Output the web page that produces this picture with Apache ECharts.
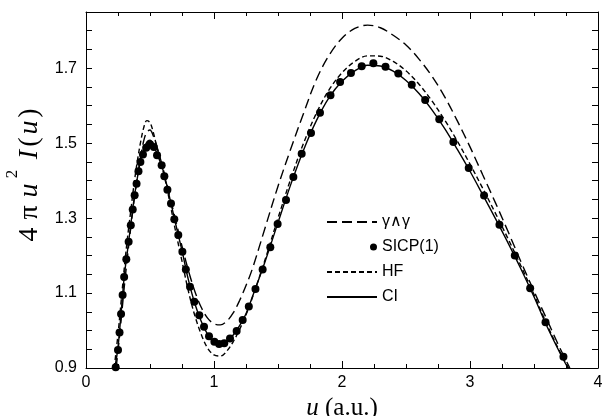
<!DOCTYPE html>
<html>
<head>
<meta charset="utf-8">
<script src="https://cdn.jsdelivr.net/npm/echarts@6/dist/echarts.min.js"></script>
<style>
  html, body { margin: 0; padding: 0; background: #fff; }
  #chart { width: 613px; height: 416px; }
</style>
</head>
<body>
<div id="chart"></div>
<script>
// series names as in the legend
const seriesNames = ['γ∧γ', 'SICP(1)', 'HF', 'CI'];

// y tick labels (others are minor ticks only)
const yLabelValues = [0.9, 1.1, 1.3, 1.5, 1.7];

// SICP(1) points [u, 4πu²I(u)]
const sicpData = [
  [0.232, 0.902], [0.25, 0.948], [0.262, 0.995], [0.274, 1.044], [0.286, 1.095],
  [0.298, 1.143], [0.315, 1.19], [0.333, 1.237], [0.35, 1.281], [0.365, 1.323],
  [0.38, 1.361], [0.395, 1.392], [0.41, 1.425], [0.425, 1.45], [0.445, 1.47],
  [0.47, 1.488], [0.5, 1.497], [0.53, 1.49], [0.555, 1.468], [0.591, 1.441],
  [0.612, 1.412], [0.636, 1.376], [0.664, 1.339], [0.69, 1.297], [0.721, 1.255],
  [0.753, 1.21], [0.78, 1.163], [0.8125, 1.117], [0.846, 1.077], [0.885, 1.041],
  [0.922, 1.01], [0.961, 0.985], [1.003, 0.97], [1.04, 0.964], [1.08, 0.966],
  [1.125, 0.979], [1.177, 0.999], [1.224, 1.028], [1.272, 1.064], [1.324, 1.111],
  [1.38, 1.163], [1.44, 1.222], [1.497, 1.284], [1.5625, 1.348], [1.62, 1.41],
  [1.685, 1.472], [1.758, 1.527], [1.828, 1.581], [1.91, 1.628], [1.985, 1.663],
  [2.07, 1.687], [2.154, 1.705], [2.245, 1.713], [2.34, 1.704], [2.44, 1.686],
  [2.545, 1.656], [2.65, 1.615], [2.76, 1.564], [2.87, 1.503], [2.99, 1.434],
  [3.11, 1.36], [3.23, 1.282], [3.35, 1.2], [3.47, 1.113], [3.59, 1.022],
  [3.73, 0.93]
];

// CI (solid)
const ciData = [
  [0.225, 0.9], [0.25, 0.955], [0.275, 1.05], [0.3, 1.148], [0.325, 1.215],
  [0.35, 1.283], [0.375, 1.35], [0.4, 1.405], [0.425, 1.452], [0.45, 1.484],
  [0.475, 1.503], [0.5, 1.508], [0.525, 1.498], [0.55, 1.476], [0.6, 1.43],
  [0.65, 1.36], [0.7, 1.285], [0.75, 1.213], [0.8, 1.135], [0.85, 1.072],
  [0.9, 1.025], [0.95, 0.99], [1.0, 0.968], [1.05, 0.962], [1.1, 0.97],
  [1.15, 0.988], [1.2, 1.013], [1.25, 1.045], [1.3, 1.09], [1.4, 1.185],
  [1.5, 1.288], [1.6, 1.39], [1.7, 1.482], [1.8, 1.56], [1.9, 1.622],
  [2.0, 1.665], [2.1, 1.693], [2.2, 1.708], [2.3, 1.706], [2.4, 1.692],
  [2.5, 1.667], [2.6, 1.633], [2.7, 1.59], [2.8, 1.54], [2.9, 1.484],
  [3.0, 1.425], [3.1, 1.362], [3.2, 1.298], [3.3, 1.232], [3.4, 1.163],
  [3.5, 1.09], [3.6, 1.012], [3.7, 0.942], [3.765, 0.9]
];

// HF (short dash)
const hfData = [
  [0.22, 0.9], [0.25, 0.99], [0.275, 1.08], [0.3, 1.17], [0.325, 1.25],
  [0.35, 1.32], [0.375, 1.39], [0.4, 1.45], [0.425, 1.5], [0.45, 1.54],
  [0.475, 1.56], [0.5, 1.555], [0.525, 1.53], [0.55, 1.495], [0.6, 1.43],
  [0.65, 1.35], [0.7, 1.265], [0.75, 1.185], [0.8, 1.105], [0.85, 1.04],
  [0.9, 0.99], [0.95, 0.953], [1.0, 0.935], [1.05, 0.932], [1.1, 0.945],
  [1.15, 0.97], [1.2, 1.003], [1.25, 1.042], [1.3, 1.088], [1.4, 1.19],
  [1.5, 1.3], [1.6, 1.405], [1.7, 1.5], [1.8, 1.58], [1.9, 1.643],
  [2.0, 1.688], [2.1, 1.718], [2.2, 1.733], [2.3, 1.732], [2.4, 1.718],
  [2.5, 1.693], [2.6, 1.658], [2.7, 1.614], [2.8, 1.563], [2.9, 1.506],
  [3.0, 1.444], [3.1, 1.379], [3.2, 1.312], [3.3, 1.243], [3.4, 1.171],
  [3.5, 1.096], [3.6, 1.017], [3.7, 0.945], [3.77, 0.9]
];

// γ∧γ (long dash)
const ggData = [
  [0.235, 0.9], [0.25, 0.945], [0.275, 1.03], [0.3, 1.12], [0.325, 1.2],
  [0.35, 1.275], [0.375, 1.345], [0.4, 1.405], [0.425, 1.46], [0.45, 1.505],
  [0.475, 1.53], [0.5, 1.535], [0.525, 1.52], [0.55, 1.495], [0.6, 1.435],
  [0.65, 1.365], [0.7, 1.295], [0.75, 1.225], [0.8, 1.16], [0.85, 1.105],
  [0.9, 1.062], [0.95, 1.033], [1.0, 1.018], [1.05, 1.015], [1.1, 1.025],
  [1.15, 1.047], [1.2, 1.08], [1.25, 1.12], [1.3, 1.165], [1.4, 1.275],
  [1.5, 1.385], [1.6, 1.485], [1.7, 1.58], [1.8, 1.67], [1.9, 1.735],
  [2.0, 1.78], [2.1, 1.806], [2.2, 1.815], [2.3, 1.808], [2.4, 1.788],
  [2.5, 1.762], [2.6, 1.725], [2.7, 1.68], [2.8, 1.625], [2.9, 1.56],
  [3.0, 1.49], [3.1, 1.415], [3.2, 1.34], [3.3, 1.262], [3.4, 1.182],
  [3.5, 1.105], [3.6, 1.03], [3.7, 0.955], [3.78, 0.9]
];

const chart = echarts.init(document.getElementById('chart'), null, { renderer: 'canvas' });

const black = '#000';
const sans = 'Liberation Sans, Arial, sans-serif';
const serif = 'Liberation Serif, Times New Roman, serif';
const tickFont = { color: black, fontSize: 16, fontFamily: sans };

const frameX = (show, pos) => ({
  type: 'value', min: 0, max: 4, interval: 1, position: pos,
  axisLine: { show: true, onZero: false, lineStyle: { color: black, width: 1 } },
  axisTick: { show: true, inside: true, length: 7, lineStyle: { color: black } },
  minorTick: { show: true, splitNumber: 4, length: 4, lineStyle: { color: black } },
  splitLine: { show: false },
  axisLabel: show ? { ...tickFont, margin: 7 } : { show: false }
});

const frameY = (show, pos) => ({
  type: 'value', min: 0.9, max: 1.85, interval: 0.05, position: pos,
  axisLine: { show: true, onZero: false, lineStyle: { color: black, width: 1 } },
  axisTick: { show: true, inside: true, length: 6, lineStyle: { color: black } },
  splitLine: { show: false },
  axisLabel: show ? {
    ...tickFont, margin: 9,
    formatter: v => yLabelValues.some(t => Math.abs(t - v) < 1e-6) ? v.toFixed(1) : ''
  } : { show: false }
});

const xMain = frameX(true, 'bottom');
xMain.name = '{i|u} (a.u.)';
xMain.nameLocation = 'middle';
xMain.nameGap = 22;
xMain.nameTextStyle = {
  fontFamily: serif, fontSize: 25, color: black,
  rich: { i: { fontFamily: serif, fontSize: 25, fontStyle: 'italic', color: black } }
};

// y title, spaced out like the original typesetting
const yMain = frameY(true, 'left');
yMain.name = '{n|4}{m|π}{i|u}{sup|2}{g| }{j|I}{p|(}{k|u}{p|)}';
yMain.nameLocation = 'middle';
yMain.nameGap = 40;
const yTitle = {
  fontFamily: serif, fontSize: 28, color: black, align: 'center',
  lineHeight: 40, verticalAlign: 'bottom'
};
yMain.nameTextStyle = {
  ...yTitle,
  padding: [0, 0, 0, 28],
  rich: {
    n: { ...yTitle, width: 21 },
    m: { ...yTitle, width: 23 },
    i: { ...yTitle, fontStyle: 'italic', width: 21 },
    j: { ...yTitle, fontStyle: 'italic', width: 13 },
    k: { ...yTitle, fontStyle: 'italic', width: 17 },
    p: { ...yTitle, width: 12 },
    g: { fontSize: 28, lineHeight: 40, width: 7 },
    sup: {
      fontFamily: serif, fontSize: 17, color: black, width: 12, align: 'center',
      lineHeight: 18, verticalAlign: 'top'
    }
  }
};

const lineSeries = (name, data, type) => ({
  name, type: 'line', data, xAxisIndex: 0, yAxisIndex: 0,
  showSymbol: false, symbol: 'none', smooth: 0.35,
  lineStyle: { color: black, width: 1.4, type },
  itemStyle: { color: black },
  z: 2
});

const hiddenDot = { itemStyle: { opacity: 0 } };

chart.setOption({
  backgroundColor: '#fff',
  animation: false,
  grid: { left: 86, right: 15, top: 12, bottom: 48, outerBoundsMode: 'none' },
  xAxis: [xMain, frameX(false, 'top')],
  yAxis: [yMain, frameY(false, 'right')],
  legend: {
    orient: 'vertical', left: 321, top: 209,
    itemWidth: 50, itemHeight: 10, itemGap: 9,
    selectedMode: false,
    textStyle: { color: black, fontSize: 16, fontFamily: sans },
    data: [
      { name: seriesNames[0], ...hiddenDot },
      { name: seriesNames[1], icon: 'path://M0,0L0,10M43,5a3.5,3.5 0 1,0 7,0a3.5,3.5 0 1,0 -7,0' },
      { name: seriesNames[2], ...hiddenDot },
      { name: seriesNames[3], ...hiddenDot }
    ]
  },
  series: [
    lineSeries(seriesNames[0], ggData, [10, 5]),
    {
      name: seriesNames[1], type: 'scatter', data: sicpData,
      symbol: 'circle', symbolSize: 8,
      itemStyle: { color: black, opacity: 1 }, z: 3
    },
    lineSeries(seriesNames[2], hfData, [5, 3]),
    lineSeries(seriesNames[3], ciData, 'solid')
  ]
});
</script>
</body>
</html>
